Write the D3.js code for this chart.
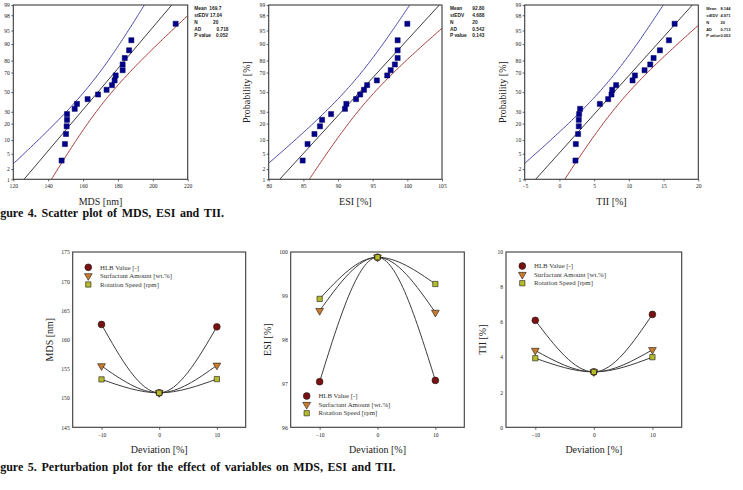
<!DOCTYPE html>
<html><head><meta charset="utf-8">
<script src="https://cdn.jsdelivr.net/npm/d3@7"></script>
<style>body{margin:0;background:#fff}svg{display:block}</style>
</head><body>
<svg id="c" width="743" height="490"></svg>
<script>
// ---------- data ----------
const probTicks = [1,2,5,10,20,30,50,70,80,90,95,98,99];
const plotPos = [3.4,8.3,13.2,18.1,23.0,27.9,32.8,37.7,42.6,47.5,52.5,57.4,62.3,67.2,72.1,77.0,81.9,86.8,91.7,96.6];
const mdsVals = [147.7,149.6,150.2,150.6,150.8,150.8,155.2,156.5,162.6,168.6,173.5,176.6,178.1,178.7,182.7,182.7,183.9,186.4,187.7,213.1];
const esiVals = [84.9,85.6,86.6,87.4,87.7,89.0,91.0,91.2,92.6,93.2,93.75,94.2,95.6,97.1,97.6,98.2,98.6,98.6,98.6,100.0];
const tiiVals = [2.31,2.36,2.69,2.79,2.79,2.84,2.98,5.82,7.02,7.5,7.6,8.17,10.53,10.87,12.26,13.08,13.56,14.47,15.77,16.59];
const mdsTicks = [120,140,160,180,200,220];
const esiTicks = [80,85,90,95,100,105];
const tiiTicks = [-5,0,5,10,15,20];
const statLabels = ["Mean","stEDV","N","AD","P value"];
const mdsStats = ["169.7","17.04","20","0.718","0.052"];
const esiStats = ["92.80","4.688","20","0.542","0.143"];
const tiiStats = ["8.144","4.971","20","0.713","0.053"];
// fitted normal line (mean, sd) as drawn
const mdsFit = [168.5,18.2], esiFit = [93.1,4.95], tiiFit = [7.86,4.85];
const nObs = 20;

const devX = [-10,0,10];
const devTicks = [-10,0,10];
const seriesNames = ["HLB Value [-]","Surfactant Amount [wt.%]","Rotation Speed [rpm]"];
const mdsHLB = [162.6,150.9,162.2], mdsSurf = [155.5,150.9,155.6], mdsRot = [153.2,150.9,153.25];
const esiHLB = [97.04,99.88,97.07], esiSurf = [98.66,99.88,98.62], esiRot = [98.93,99.88,99.27];
const tiiHLB = [6.1,3.16,6.44], tiiSurf = [4.38,3.16,4.42], tiiRot = [3.94,3.16,4.0];
const mdsYTicks = [145,150,155,160,165,170,175];
const esiYTicks = [96,97,98,99,100];
const tiiYTicks = [0,2,4,6,8,10];

// ---------- helpers ----------
function probit(p){
  const a=[-3.969683028665376e+01,2.209460984245205e+02,-2.759285104469687e+02,1.383577518672690e+02,-3.066479806614716e+01,2.506628277459239e+00];
  const b=[-5.447609879822406e+01,1.615858368580409e+02,-1.556989798598866e+02,6.680131188771972e+01,-1.328068155288572e+01];
  const c=[-7.784894002430293e-03,-3.223964580411365e-01,-2.400758277161838e+00,-2.549732539343734e+00,4.374664141464968e+00,2.938163982698783e+00];
  const d=[7.784695709041462e-03,3.224671290700398e-01,2.445134137142996e+00,3.754408661907416e+00];
  const pl=0.02425, ph=1-pl; let q,r;
  if(p<pl){q=Math.sqrt(-2*Math.log(p));return (((((c[0]*q+c[1])*q+c[2])*q+c[3])*q+c[4])*q+c[5])/((((d[0]*q+d[1])*q+d[2])*q+d[3])*q+1);}
  if(p<=ph){q=p-0.5;r=q*q;return (((((a[0]*r+a[1])*r+a[2])*r+a[3])*r+a[4])*r+a[5])*q/(((((b[0]*r+b[1])*r+b[2])*r+b[3])*r+b[4])*r+1);}
  q=Math.sqrt(-2*Math.log(1-p));return -(((((c[0]*q+c[1])*q+c[2])*q+c[3])*q+c[4])*q+c[5])/((((d[0]*q+d[1])*q+d[2])*q+d[3])*q+1);
}
const svg = d3.select("#c");
const SERIF = "'Liberation Serif','Times New Roman',serif";
const SANS = "'Liberation Sans',Arial,sans-serif";
const FRAME = "#3a3a3a";

// ---------- probability plots ----------
const topPanels = [
  {id:"p1", vals:mdsVals, dom:[120,220], ticks:mdsTicks, x0:13.3, x1:187.7, fit:mdsFit, label:"MDS [nm]", ylab:false, stats:mdsStats, sx:194.3, vx:[209.3,210,213,216.5,216], sf:4.8},
  {id:"p2", vals:esiVals, dom:[80,105], ticks:esiTicks, x0:268.7, x1:442, fit:esiFit, label:"ESI [%]", ylab:true, stats:esiStats, sx:450, vx:[472.3,472.3,472.3,472.3,472.3], sf:4.8},
  {id:"p3", vals:tiiVals, dom:[-5,20], ticks:tiiTicks, x0:524.7, x1:698.3, fit:tiiFit, label:"TII [%]", ylab:true, stats:tiiStats, sx:706.2, vx:[720.5,720.5,720.5,720.5,720.5], sf:4.0}
];
const yTop = 5, yBot = 179.3;
const yz = d3.scaleLinear().domain([probit(0.01), probit(0.99)]).range([yBot, yTop]);
const yP = p => yz(probit(p/100));
const kBand = 1.97;

topPanels.forEach(P => {
  const g = svg.append("g");
  const x = d3.scaleLinear().domain(P.dom).range([P.x0, P.x1]);
  svg.append("clipPath").attr("id","clip"+P.id).append("rect")
    .attr("x",P.x0).attr("y",yTop).attr("width",P.x1-P.x0).attr("height",yBot-yTop);
  const inner = g.append("g").attr("clip-path","url(#clip"+P.id+")");
  const [m,s] = P.fit;
  const zs = d3.range(-3.2, 3.2001, 0.04);
  const w = z => kBand*s*Math.sqrt(1/nObs + z*z/(2*(nObs-1)));
  const line = d3.line().x(d => x(d[0])).y(d => yz(d[1]));
  inner.append("path").attr("d", line(zs.map(z => [m+z*s - w(z), z])))
    .attr("fill","none").attr("stroke","#4848a8").attr("stroke-width",1);
  inner.append("path").attr("d", line(zs.map(z => [m+z*s + w(z), z])))
    .attr("fill","none").attr("stroke","#a83a3a").attr("stroke-width",1);
  inner.append("path").attr("d", line([[m-3.2*s,-3.2],[m+3.2*s,3.2]]))
    .attr("fill","none").attr("stroke","#2a2a2a").attr("stroke-width",0.9);
  // points
  g.selectAll("path.pt").data(P.vals).enter().append("path")
    .attr("class","pt")
    .attr("d", d3.symbol(d3.symbolSquare, 26)())
    .attr("transform",(d,i)=>`translate(${x(d)},${yP(plotPos[i])})`)
    .attr("fill","#00008c").attr("stroke","#000060").attr("stroke-width",0.5);
  // frame
  g.append("rect").attr("x",P.x0).attr("y",yTop).attr("width",P.x1-P.x0).attr("height",yBot-yTop)
    .attr("fill","none").attr("stroke",FRAME).attr("stroke-width",1.1);
  // axes ticks
  const ax = d3.axisBottom(x).tickValues(P.ticks).tickSize(2).tickPadding(2.5).tickFormat(d3.format("d"));
  const axg = g.append("g").attr("transform",`translate(0,${yBot})`).call(ax);
  const ay = d3.axisLeft(yz).tickValues(probTicks.map(p=>probit(p/100))).tickSize(2).tickPadding(1.5)
    .tickFormat((d,i)=>probTicks[i]);
  const ayg = g.append("g").attr("transform",`translate(${P.x0},0)`).call(ay);
  [axg, ayg].forEach(a => {
    a.select(".domain").remove();
    a.selectAll("line").attr("stroke",FRAME).attr("stroke-width",0.8);
    a.selectAll("text").attr("font-family",SERIF).attr("font-size",5.6).attr("fill","#222");
  });
  // axis labels
  g.append("text").attr("x",(P.x0+P.x1)/2).attr("y",205).attr("text-anchor","middle")
    .attr("font-family",SERIF).attr("font-size",10).attr("fill","#222").text(P.label);
  if (P.ylab) {
    g.append("text").attr("transform",`translate(${P.x0-19},${(yTop+yBot)/2}) rotate(-90)`)
      .attr("text-anchor","middle").attr("font-family",SERIF).attr("font-size",10).attr("fill","#222")
      .text("Probability [%]");
  }
  // stats
  const rowsY = [10.3,16.9,23.6,30.5,37.3];
  statLabels.forEach((lab,i) => {
    g.append("text").attr("x",P.sx).attr("y",rowsY[i]).attr("font-family",SANS).attr("font-weight","bold")
      .attr("font-size",P.sf).attr("fill","#222").text(lab);
    g.append("text").attr("x",P.vx[i]).attr("y",rowsY[i]).attr("font-family",SANS).attr("font-weight","bold")
      .attr("font-size",P.sf).attr("fill","#222").text(P.stats[i]);
  });
});

// ---------- perturbation plots ----------
const colors = {hlb:"#7a1212", surf:"#c97a2c", rot:"#b4bc2c"};
const botPanels = [
  {id:"q1", dom:[145,175], yticks:mdsYTicks, x0:72.7, x1:245.7, data:[mdsHLB,mdsSurf,mdsRot], label:"MDS [nm]", lx:88.3, ly:[267.3,275.9,284.5]},
  {id:"q2", dom:[96,100], yticks:esiYTicks, x0:290.7, x1:464.3, data:[esiHLB,esiSurf,esiRot], label:"ESI [%]", lx:306.7, ly:[396,404.6,413.2]},
  {id:"q3", dom:[0,10], yticks:tiiYTicks, x0:506, x1:681.7, data:[tiiHLB,tiiSurf,tiiRot], label:"TII [%]", lx:522.3, ly:[266,274.6,283.2]}
];
const bTop = 252, bBot = 427.3;
const symCircle = d3.symbol(d3.symbolCircle, 36)();
const symTri = d3.symbol(d3.symbolTriangle, 26)();
const symSq = d3.symbol(d3.symbolSquare, 28)();
const marks = [
  {d:symCircle, fill:colors.hlb, rot:0},
  {d:symTri, fill:colors.surf, rot:180},
  {d:symSq, fill:colors.rot, rot:0}
];

botPanels.forEach(P => {
  const g = svg.append("g");
  const x = d3.scaleLinear().domain([-15,15]).range([P.x0, P.x1]);
  const y = d3.scaleLinear().domain(P.dom).range([bBot, bTop]);
  const line = d3.line().x((d,i)=>x(devX[i])).y(d=>y(d)).curve(d3.curveMonotoneX);
  P.data.forEach(ser => {
    g.append("path").attr("d", line(ser)).attr("fill","none").attr("stroke","#3c3c3c").attr("stroke-width",1);
  });
  P.data.forEach((ser, si) => {
    g.selectAll("path.m"+si).data(ser).enter().append("path").attr("class","m"+si)
      .attr("d", marks[si].d)
      .attr("transform",(d,i)=>`translate(${x(devX[i])},${y(d)}) rotate(${marks[si].rot})`)
      .attr("fill",marks[si].fill).attr("stroke","#1a1a1a").attr("stroke-width",0.6);
  });
  g.append("rect").attr("x",P.x0).attr("y",bTop).attr("width",P.x1-P.x0).attr("height",bBot-bTop)
    .attr("fill","none").attr("stroke",FRAME).attr("stroke-width",1.1);
  const ax = d3.axisBottom(x).tickValues(devTicks).tickSize(2.5).tickPadding(3).tickFormat(d3.format("d"));
  const ay = d3.axisLeft(y).tickValues(P.yticks).tickSize(0).tickPadding(3).tickFormat(d3.format("d"));
  const axg = g.append("g").attr("transform",`translate(0,${bBot})`).call(ax);
  const ayg = g.append("g").attr("transform",`translate(${P.x0},0)`).call(ay);
  [axg, ayg].forEach(a => {
    a.select(".domain").remove();
    a.selectAll("line").attr("stroke",FRAME).attr("stroke-width",0.8);
    a.selectAll("text").attr("font-family",SERIF).attr("font-size",5.6).attr("fill","#222");
  });
  g.append("text").attr("x",(P.x0+P.x1)/2).attr("y",453).attr("text-anchor","middle")
    .attr("font-family",SERIF).attr("font-size",10).attr("fill","#222").text("Deviation [%]");
  g.append("text").attr("transform",`translate(${P.x0-20},${(bTop+bBot)/2}) rotate(-90)`)
    .attr("text-anchor","middle").attr("font-family",SERIF).attr("font-size",10).attr("fill","#222").text(P.label);
  // legend
  seriesNames.forEach((nm, si) => {
    g.append("path").attr("d", marks[si].d)
      .attr("transform",`translate(${P.lx},${P.ly[si]}) rotate(${marks[si].rot})`)
      .attr("fill",marks[si].fill).attr("stroke","#1a1a1a").attr("stroke-width",0.6);
    g.append("text").attr("x",P.lx+11.7).attr("y",P.ly[si]+2.2)
      .attr("font-family",SERIF).attr("font-size",6.8).attr("fill","#333").text(nm);
  });
});

// ---------- captions ----------
svg.append("text").attr("x",-10.5).attr("y",217).attr("font-family",SERIF).attr("font-weight","bold")
  .attr("font-size",12).attr("word-spacing",1.6).attr("fill","#111").text("Figure 4. Scatter plot of MDS, ESI and TII.");
svg.append("text").attr("x",-10.5).attr("y",471).attr("font-family",SERIF).attr("font-weight","bold")
  .attr("font-size",12).attr("word-spacing",1.6).attr("fill","#111").text("Figure 5. Perturbation plot for the effect of variables on MDS, ESI and TII.");
</script>
</body></html>
